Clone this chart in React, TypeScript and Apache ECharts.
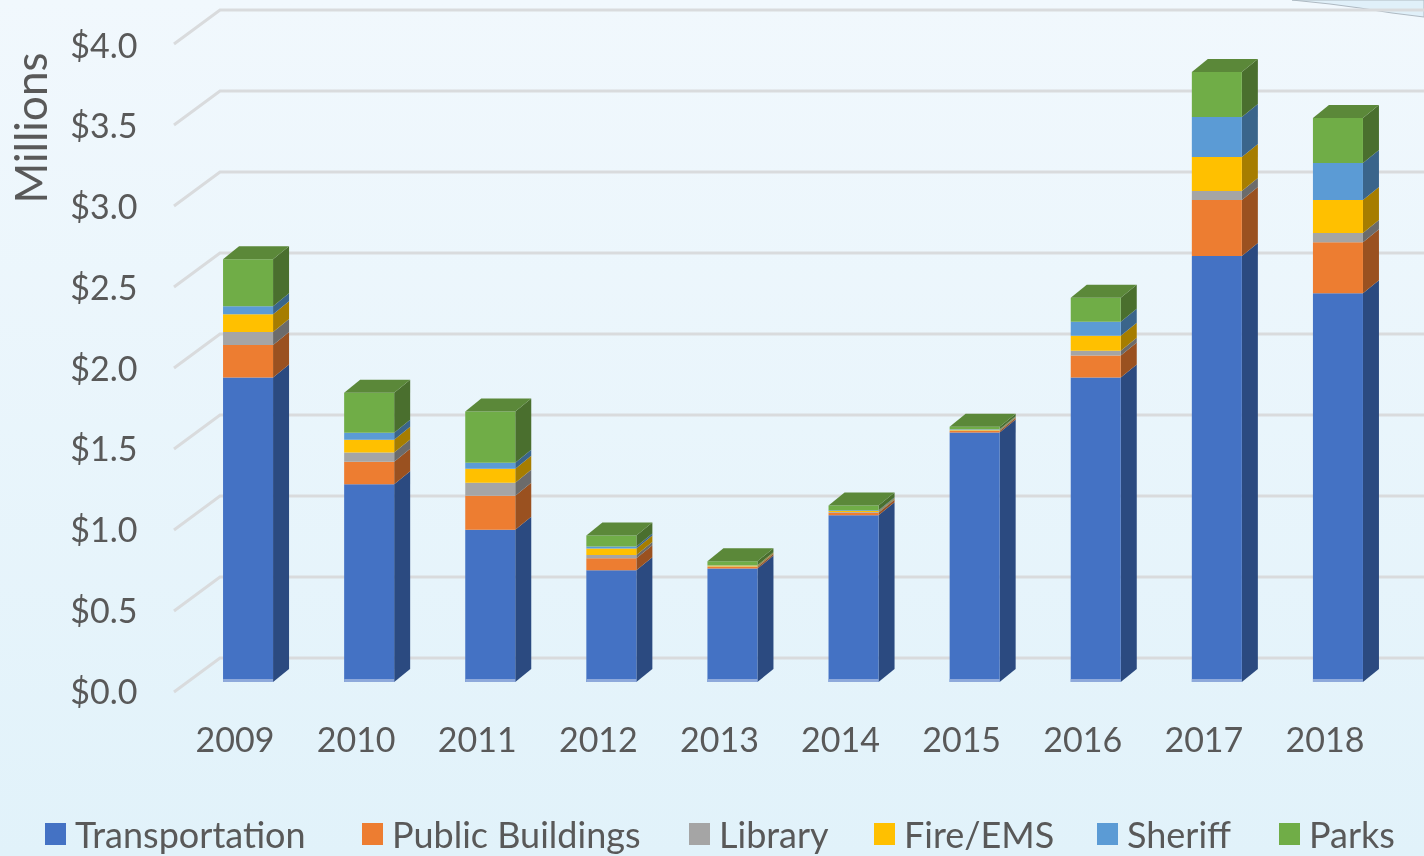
import React, { useEffect, useRef } from 'react';
import * as echarts from 'echarts';

// ---------- data ----------
const years = ['2009', '2010', '2011', '2012', '2013', '2014', '2015', '2016', '2017', '2018'];
const transportation = [1.88, 1.22, 0.94, 0.69, 0.70, 1.03, 1.54, 1.88, 2.63, 2.40];
const publicBuildings = [0.20, 0.14, 0.21, 0.074, 0.01, 0.015, 0.01, 0.135, 0.345, 0.315];
const library = [0.08, 0.056, 0.08, 0.02, 0.003, 0.005, 0.003, 0.03, 0.056, 0.056];
const fireEMS = [0.11, 0.08, 0.087, 0.04, 0.006, 0.005, 0.004, 0.093, 0.21, 0.204];
const sheriff = [0.05, 0.043, 0.037, 0.013, 0.002, 0.005, 0.003, 0.086, 0.247, 0.228];
const parks = [0.29, 0.247, 0.315, 0.067, 0.025, 0.03, 0.015, 0.148, 0.278, 0.278];
const seriesNames = ['Transportation', 'Public Buildings', 'Library', 'Fire/EMS', 'Sheriff', 'Parks'];
const seriesValues = [transportation, publicBuildings, library, fireEMS, sheriff, parks];
const yTicks = [0, 0.5, 1, 1.5, 2, 2.5, 3, 3.5, 4];

// ---------- styles ----------
const frontColors = ['#4472C4', '#ED7D31', '#A5A5A5', '#FFC000', '#5B9BD5', '#70AD47'];
const sideColors = ['#2B4A80', '#9A5120', '#6B6B6B', '#A67D00', '#3A658B', '#4A6F2E'];
const topColors = ['#3A62A8', '#C9692A', '#8C8C8C', '#D9A300', '#4E84B5', '#5B8839'];
const legendLefts = [45, 362, 689, 874, 1097, 1279];
const FONT = 'Lato';
const TEXT = '#595959';
const DX = 16;
const DY = -13;

export default function App() {
  const ref = useRef<HTMLDivElement>(null);

  useEffect(() => {
    if (!ref.current) return;
    const chart = echarts.init(ref.current, null, { renderer: 'svg' });

    const bases = years.map(() => 0);
    const barSeries = seriesNames.map((name, si) => {
      const vals = seriesValues[si];
      const data = vals.map((v, i) => {
        const lo = bases[i];
        const hi = lo + v;
        bases[i] = hi;
        return [i, lo, hi];
      });
      const isTop = si === seriesNames.length - 1;
      return {
        type: 'custom',
        name,
        xAxisIndex: 0,
        yAxisIndex: 0,
        z: 3,
        itemStyle: { color: frontColors[si] },
        encode: { x: 0, y: [1, 2] },
        data,
        renderItem: (params: any, api: any) => {
          const ci = api.value(0);
          const lo = api.coord([ci, api.value(1)]);
          const hi = api.coord([ci, api.value(2)]);
          const band = api.size([1, 0])[0];
          const w = band * 0.413;
          const x0 = lo[0] - w / 2;
          const x1 = lo[0] + w / 2;
          const children: any[] = [
            {
              type: 'polygon',
              shape: { points: [[x1, lo[1]], [x1 + DX, lo[1] + DY], [x1 + DX, hi[1] + DY], [x1, hi[1]]] },
              style: { fill: sideColors[si] },
            },
            {
              type: 'rect',
              shape: { x: x0, y: hi[1], width: w, height: lo[1] - hi[1] },
              style: { fill: frontColors[si] },
            },
          ];
          if (si === 0) {
            children.push({
              type: 'rect',
              shape: { x: x0, y: lo[1] - 3, width: w, height: 3 },
              style: { fill: '#8EA9DB' },
            });
          }
          if (isTop) {
            children.push({
              type: 'polygon',
              shape: { points: [[x0, hi[1]], [x1, hi[1]], [x1 + DX, hi[1] + DY], [x0 + DX, hi[1] + DY]] },
              style: { fill: topColors[si] },
            });
          }
          return { type: 'group', children };
        },
      };
    });

    const gridSeries = {
      type: 'custom',
      name: 'grid',
      xAxisIndex: 0,
      yAxisIndex: 0,
      z: 1,
      silent: true,
      encode: { x: 0, y: 1 },
      data: yTicks.map((v) => [0, v]),
      renderItem: (params: any, api: any) => {
        const cs = params.coordSys;
        const y = api.coord([0, api.value(1)])[1];
        return {
          type: 'polyline',
          shape: {
            points: [
              [cs.x - 13.5, y + 10],
              [cs.x + 32.5, y - 24],
              [cs.x + cs.width + 40, y - 24],
            ],
          },
          style: { stroke: '#D9DBDD', lineWidth: 3, fill: 'none' },
        };
      },
    };

    const option: any = {
      animation: false,
      graphic: [
        {
          type: 'rect',
          z: -100,
          silent: true,
          shape: { x: 0, y: 0, width: 1424, height: 856 },
          style: {
            fill: new echarts.graphic.LinearGradient(0, 0, 0, 1, [
              { offset: 0, color: '#F1F8FD' },
              { offset: 1, color: '#E1F2FA' },
            ]),
          },
        },
        {
          type: 'polygon',
          z: -50,
          silent: true,
          shape: {
            points: [[1292, 0], [1330, 4], [1360, 8], [1392, 13], [1424, 17], [1424, 0]],
          },
          style: { fill: '#E0F0F9', stroke: '#AEB9C2', lineWidth: 1 },
        },
        {
          type: 'text',
          x: 30,
          y: 128,
          rotation: Math.PI / 2,
          style: {
            text: 'Millions',
            fontSize: 44,
            fontFamily: FONT,
            fill: TEXT,
            align: 'center',
            verticalAlign: 'middle',
          },
        },
      ],
      legend: seriesNames.map((name, i) => ({
        data: [name],
        left: legendLefts[i],
        top: 814,
        padding: 0,
        icon: 'rect',
        itemWidth: 21,
        itemHeight: 22,
        selectedMode: false,
        textStyle: {
          fontSize: 36,
          lineHeight: 40,
          fontFamily: FONT,
          color: TEXT,
          padding: [0, 0, 0, 4],
        },
      })),
      grid: [
        { left: 187.5, right: 25.5, top: 34, bottom: 174 },
        { left: 174.5, right: 38.5, top: 44, bottom: 166 },
      ],
      xAxis: [
        { type: 'category', gridIndex: 0, data: years, show: false },
        {
          type: 'category',
          gridIndex: 1,
          data: years,
          axisLine: { show: false },
          axisTick: { show: false },
          splitLine: { show: false },
          axisLabel: { margin: 31, fontSize: 34, fontFamily: FONT, color: TEXT },
        },
      ],
      yAxis: [
        { type: 'value', gridIndex: 0, min: 0, max: 4, interval: 0.5, show: false },
        {
          type: 'value',
          gridIndex: 1,
          min: 0,
          max: 4,
          interval: 0.5,
          axisLine: { show: false },
          axisTick: { show: false },
          splitLine: { show: false },
          axisLabel: {
            margin: 37,
            fontSize: 34,
            fontFamily: FONT,
            color: TEXT,
            formatter: (v: number) => '$' + v.toFixed(1),
          },
        },
      ],
      series: [gridSeries, ...barSeries],
    };

    chart.setOption(option);
    return () => chart.dispose();
  }, []);

  return (
    <div
      ref={ref}
      style={{ position: 'fixed', left: 0, top: 0, width: 1424, height: 856 }}
    />
  );
}
